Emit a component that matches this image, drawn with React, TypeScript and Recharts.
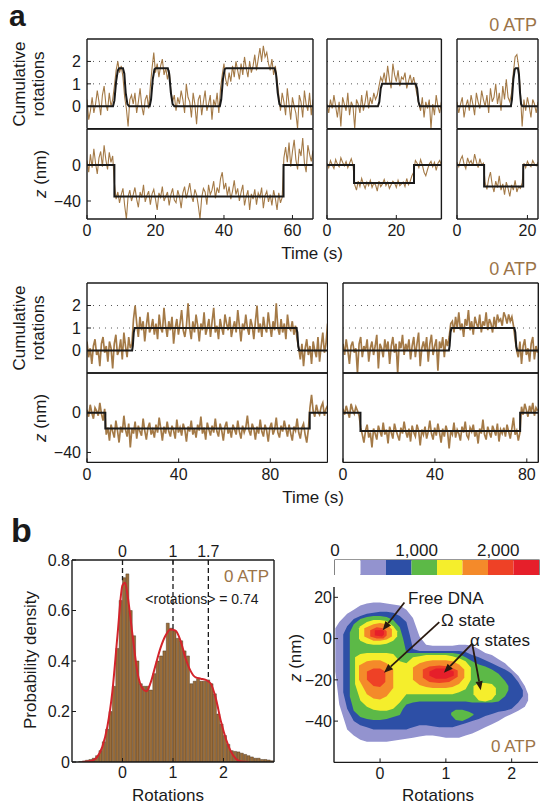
import React from 'react';
import {
  LineChart, Line, XAxis, YAxis, ReferenceLine, ReferenceArea,
  ComposedChart, Bar, Area, BarChart,
} from 'recharts';

const FONT = '"Liberation Sans", Arial, Helvetica, sans-serif';
const TRACE = '#a47a47';
const ATP = '#9b7448';
const INK = '#1a1a1a';

// ---------- panel a, sampling interval of the traces (s) ----------
const DT_TOP = 0.5;
const DT_BOTTOM = 0.7;

// trace 1 (0-66 s)
const rot1 = [0.3,-0.6,-0.2,0.4,-0.3,0.1,0.7,0.2,-0.4,0.5,0.9,0.1,-0.2,0.6,0.0,0.3,
  0.9,1.6,2.0,1.5,1.8,1.3,
  0.4,-0.1,-0.9,0.3,0.5,
  0.1,0.6,-0.3,0.2,0.8,0.0,-0.4,0.3,0.5,-0.1,
  0.9,1.7,2.4,1.5,1.9,1.3,1.8,2.1,1.4,1.7,1.2,1.6,
  0.7,0.2,0.5,-0.2,
  0.4,0.1,0.7,0.3,-0.3,1.0,0.4,0.2,-0.5,0.6,0.1,-0.8,0.3,0.5,-0.4,0.2,0.7,-0.2,0.1,0.5,-0.6,0.3,0.0,0.6,-0.3,
  0.8,1.4,1.9,1.2,0.9,
  1.5,1.1,1.8,1.3,2.0,1.6,1.2,1.9,1.4,2.2,1.7,1.3,2.0,1.5,1.8,2.3,1.6,2.1,
  2.6,2.0,2.7,2.2,2.4,1.9,
  1.6,2.1,1.4,1.8,1.2,
  0.5,-0.2,0.6,
  0.2,-0.4,0.8,0.1,-0.6,0.4,0.0,-0.3,-1.0,0.5,0.2,-0.5,0.7,0.1,-0.2,0.6,-0.4,0.3];
const rotFit1 = [[0,0],[7.6,0],[8.0,0.25],[8.5,1.1],[9.0,1.6],[9.4,1.7],[10.5,1.7],[10.9,1.45],[11.3,0.6],[11.8,0.1],[12.3,0],
  [18.3,0],[18.7,0.3],[19.2,1.2],[19.7,1.65],[20.1,1.7],[23.6,1.7],[24.0,1.45],[24.5,0.6],[25.0,0.1],[25.5,0],
  [38.8,0],[39.2,0.3],[39.7,1.2],[40.2,1.65],[40.6,1.7],[54.8,1.7],[55.2,1.45],[55.7,0.6],[56.2,0.1],[56.7,0],[66,0]];
const z1 = [5,-8,12,-3,18,2,-10,8,15,-2,22,6,-5,14,3,10,
  -20,
  -38,-30,-42,-33,-26,-45,-60,-35,-28,-40,
  -33,-25,-38,-47,-30,-36,-22,-41,-34,-29,
  -44,-32,-27,-38,-50,-31,-36,-24,-40,-35,
  -30,-45,-33,-26,-39,-42,-28,-35,-48,-31,
  -24,-37,-29,-20,-34,-41,-27,-33,-45,-60,
  -36,-26,-30,-44,-22,-33,-28,-18,-37,-25,
  -31,-15,-8,-27,-20,-34,-24,-38,-29,-17,
  -33,-26,-40,-30,-22,-45,-35,-28,-50,-32,
  -38,-27,-44,-31,-36,-25,-48,-34,-29,-41,
  -33,-45,-28,-37,-50,-31,-42,-36,
  8,20,3,25,-2,15,28,6,-5,18,10,30,2,-8,22,12,4,16];
const zFit1 = [[0,0],[8,0],[8,-35],[57.4,-35],[57.4,0],[66,0]];

// trace 2 (0-33 s)
const rot2 = [0.1,-0.3,0.3,-0.1,0.5,0.0,-0.5,0.2,-0.9,0.4,0.1,-0.2,0.6,-0.4,0.2,0.0,-1.0,0.3,0.1,-0.3,0.5,-0.2,0.2,0.7,-0.1,0.4,0.1,0.6,0.3,0.5,
  0.9,1.3,1.1,
  1.5,1.0,1.8,1.2,0.8,1.9,1.4,1.1,1.6,0.9,1.3,1.2,1.5,0.8,1.1,1.4,1.0,1.3,0.9,
  0.5,0.1,
  -0.2,0.4,-0.5,0.2,-0.1,0.3,-1.0,0.1,-0.4,0.5,0.0,-0.3,0.2];
const rotFit2 = [[0,0],[14.7,0],[15.1,0.2],[15.5,0.8],[15.9,1],[25.6,1],[26.0,0.8],[26.4,0.2],[26.8,0],[33,0]];
const z2 = [2,-3,5,0,-4,6,1,-2,8,3,-1,4,-3,2,7,0,
  -22,-28,-18,-24,-15,-21,-26,-19,-23,-17,-25,-20,-22,-29,-18,-24,-21,-16,-23,-19,-26,-22,-18,-20,-25,-17,-23,-21,-19,-24,-15,-22,-18,-12,-8,
  5,2,-3,6,0,-8,-12,-5,1,4,-2,3,-6,2,5,0];
const zFit2 = [[0,0],[7.8,0],[7.8,-20],[25.1,-20],[25.1,0],[33,0]];

// trace 3 (0-23 s)
const rot3 = [0.2,-0.3,0.1,0.4,-0.5,0.0,0.3,-0.2,0.5,0.1,-0.4,0.6,0.2,-0.1,0.7,0.3,0.0,0.5,-0.3,0.8,0.2,0.4,1.0,0.1,0.6,-0.2,0.9,0.3,1.2,0.4,
  0.2,0.6,
  1.5,2.2,2.3,1.8,
  0.6,-0.9,
  0.3,-0.2,0.4,0.0,-0.5,0.3,0.1,-0.3,0.2];
const rotFit3 = [[0,0],[15.3,0],[15.6,0.3],[16.0,1.2],[16.4,1.65],[16.7,1.7],[17.3,1.7],[17.6,1.4],[17.9,0.6],[18.2,0.1],[18.5,0],[23,0]];
const z3 = [3,-2,6,10,1,-4,8,2,5,-1,12,4,-3,7,0,2,
  -20,-27,-15,-8,-22,-30,-18,-25,-12,-28,-21,-33,-19,-26,-35,-22,-28,-17,-30,-24,-26,-20,
  2,-3,4,0,-2,5,1,-1,3];
const zFit3 = [[0,0],[7.7,0],[7.7,-24],[18.8,-24],[18.8,0],[23,0]];

// trace 4 (0-105 s)
const rot4 = [0.4,-0.3,0.1,-0.6,0.2,0.5,-0.2,0.0,-0.7,0.3,0.6,-0.1,0.2,-0.5,0.4,0.1,-0.8,0.3,0.7,-0.2,0.0,0.5,-0.4,0.8,0.2,-0.3,0.6,0.1,
  0.3,1.4,2.0,
  1.2,0.6,1.5,0.9,1.3,0.4,1.1,1.7,0.8,1.0,
  1.4,0.7,1.2,0.5,1.6,1.0,0.8,1.9,1.1,0.6,
  1.3,0.9,1.5,0.3,1.0,1.4,0.7,1.2,1.8,0.9,
  0.6,1.1,2.1,1.0,0.5,1.3,0.8,1.6,1.1,0.4,
  1.2,0.9,1.7,0.7,1.0,1.4,0.6,1.3,1.9,0.8,
  1.1,0.5,1.4,1.0,0.7,1.6,1.2,0.9,1.5,0.6,
  1.0,1.3,0.8,1.8,1.1,0.4,1.2,0.9,1.6,1.0,
  0.7,1.4,1.1,0.5,1.3,2.0,0.8,1.2,0.6,1.5,
  1.0,0.8,1.7,1.1,0.6,1.3,0.9,2.1,1.0,0.7,
  1.4,0.8,1.2,0.5,1.6,1.0,0.9,1.3,0.7,1.1,
  0.5,0.1,
  -0.4,0.3,-0.7,0.1,0.5,-0.2,0.2,-0.6,0.4,0.0,-0.3,0.6,-0.5,0.2,0.8,-0.1,0.3,1.2];
const rotFit4 = [[0,0],[19.7,0],[20.0,0.2],[20.4,0.8],[20.8,1],[91.4,1],[91.8,0.8],[92.2,0.2],[92.6,0],[105,0]];
const z4 = [3,-4,8,0,-6,5,2,-3,10,-1,-8,4,
  -22,-15,-28,-12,-19,-25,-8,-18,-30,-14,
  -20,-3,-17,-24,-11,-35,-16,-21,-9,-26,
  -13,-19,-23,-6,-18,-27,-15,-10,-22,-17,
  -25,-12,-20,-5,-16,-28,-14,-21,-9,-19,
  -24,-13,-18,-26,-7,-20,-15,-23,-11,-17,
  -29,-14,-19,-8,-22,-16,-25,-12,-18,-4,
  -21,-15,-27,-10,-17,-23,-13,-20,-6,-19,
  -24,-11,-18,-28,-14,-9,-21,-16,-25,-12,
  -17,-22,-8,-19,-26,-13,-20,-15,-3,-18,
  -23,-11,-16,-27,-14,-21,-7,-19,-24,-12,
  -18,-29,-15,-10,-22,-17,-5,-20,-25,-13,
  -19,-8,-16,-24,-12,-21,-28,-14,-18,-6,
  -20,-26,-15,-11,-22,-30,-17,
  5,18,2,-4,8,1,-2,6,10,-3,4,7];
const zFit4 = [[0,0],[8,0],[8,-16],[97.2,-16],[97.2,0],[105,0]];

// trace 5 (0-85 s)
const rot5 = [0.3,-0.2,0.5,0.0,-0.6,0.2,0.4,-0.1,0.1,-1.0,
  0.3,0.6,-0.3,0.2,0.0,0.5,-0.5,0.1,0.4,-0.2,
  0.2,0.7,-0.8,0.3,0.1,-0.3,0.5,0.0,0.4,-0.6,
  0.2,0.6,-0.1,0.3,-1.0,0.4,0.1,0.7,-0.2,0.3,
  0.0,0.5,-0.4,0.2,0.6,-0.3,0.3,0.8,-0.7,0.1,
  0.4,0.0,0.6,-0.5,0.3,0.7,-0.2,0.2,0.5,-0.9,
  0.4,0.1,0.6,-0.3,0.5,0.2,
  0.6,1.2,
  1.3,0.8,1.5,1.0,1.7,0.9,1.2,0.6,1.4,1.1,
  1.8,0.9,1.3,0.7,1.5,1.2,1.0,1.6,0.8,1.3,
  1.1,1.7,0.9,1.4,1.2,0.8,1.5,1.0,1.6,1.3,
  1.4,1.1,1.7,1.5,1.2,1.6,1.3,1.5,1.1,
  0.5,0.0,
  -0.3,0.4,-0.6,0.2,0.5,-0.2,0.1,-0.5,0.3,0.6,-0.4,0.2,-0.1];
const rotFit5 = [[0,0],[46.1,0],[46.4,0.2],[46.8,0.8],[47.2,1],[74.6,1],[75.0,0.8],[75.4,0.2],[75.8,0],[85,0]];
const z5 = [4,-2,7,1,-5,9,3,-1,6,2,-3,
  -15,-22,-30,-18,-12,-25,-20,-35,-16,-21,
  -27,-13,-19,-24,-10,-22,-17,-31,-14,-20,
  -26,-11,-18,-23,-28,-15,-21,-9,-19,-25,
  -16,-29,-13,-20,-24,-12,-18,-33,-17,-22,
  -14,-26,-19,-8,-21,-27,-15,-23,-11,-20,
  -30,-16,-24,-13,-19,-36,-18,-22,-10,-25,
  -17,-21,-28,-14,-20,-9,-23,-26,-15,-19,
  -12,-24,-18,-31,-16,-21,-7,-22,-27,-14,
  -20,-25,-13,-18,-23,-11,-29,-17,-21,-15,
  -24,-12,-19,-26,-16,-5,-22,-18,-28,-20,
  6,-2,9,3,-4,7,1,10,-3,5,2];
const zFit5 = [[0,0],[7.6,0],[7.6,-18.4],[77.1,-18.4],[77.1,0],[85,0]];

const ROT_TICKS = [0, 1, 2];
const Z_TICKS = [-40, 0];

// ---------- panel b, histogram ----------
// 60 bins of width 1/15 rotation, from -1 to 3
const HIST_MIN = -1;
const HIST_BIN = 1 / 15;
const histDensity = [0,0,0.002,0.004,0.007,0.01,0.015,0.025,0.045,0.08,0.13,0.2,0.3,0.45,0.64,
  0.73,0.745,0.6,0.5,0.4,0.31,0.3,0.3,0.285,0.35,0.4,0.42,0.44,0.55,0.53,
  0.52,0.49,0.48,0.44,0.42,0.31,0.32,0.33,0.32,0.32,0.325,0.31,0.27,0.19,0.15,
  0.105,0.07,0.045,0.042,0.04,0.035,0.03,0.025,0.02,0.015,0.015,0.01,0.01,0.008,0.005];
const fitX = [-0.8,-0.6,-0.5,-0.4,-0.3,-0.2,-0.1,0,0.05,0.1,0.2,0.3,0.4,0.47,0.55,0.65,0.75,0.85,0.95,1.05,1.15,1.25,1.35,1.45,1.55,1.65,1.75,1.85,1.95,2.05,2.15,2.25,2.35,2.5];
const fitY = [0,0.005,0.02,0.06,0.14,0.28,0.5,0.70,0.71,0.66,0.5,0.35,0.29,0.28,0.31,0.38,0.45,0.5,0.525,0.52,0.48,0.41,0.36,0.335,0.33,0.325,0.31,0.25,0.16,0.09,0.04,0.012,0.002,0];
const peakMarks = [[0, 0.72], [1, 0.52], [1.7, 0.325]];
const HIST_TOP_TICKS = [0, 1, 1.7];

// ---------- panel b, 2D density contours ([rotations, z low, z high]) ----------
const levelBounds = [0, 312.5, 625, 937.5, 1250, 1562.5, 1875, 2187.5, 2500];
const levelColors = ['#ffffff', '#9393cf', '#2d4fa6', '#5cb947', '#f5ee2c', '#f48a2a', '#ee4126', '#e61f2a'];

const lvl1 = [[-0.68,-16,5],[-0.62,-32,8],[-0.5,-44,12],[-0.4,-47,14],[-0.3,-49,16],[-0.2,-50,17],[-0.1,-50,17.5],[0,-50,17.5],[0.1,-50,17],[0.2,-49.5,16.5],[0.3,-49,16],[0.4,-48.5,14],[0.5,-48,10],[0.6,-47.5,1],[0.7,-47,-3],[0.8,-47,-3.5],[0.9,-47.5,-3.5],[1.0,-48,-3.5],[1.1,-48,-3.5],[1.2,-48,-3],[1.3,-47,-3],[1.4,-46,-3.5],[1.5,-44.5,-5],[1.6,-43,-7],[1.7,-41.5,-8],[1.8,-40,-10],[1.9,-38,-12],[2.0,-36.5,-15],[2.1,-35,-18],[2.2,-33,-23],[2.25,-30,-27]];
const lvl2 = [[-0.56,-26,2],[-0.5,-34,6],[-0.4,-40,9.5],[-0.3,-42,11],[-0.2,-43,12],[-0.1,-44,12.5],[0,-44,13],[0.1,-44,13],[0.2,-44,12.5],[0.3,-44,11],[0.4,-44,8],[0.45,-43.5,2],[0.5,-43,-5],[0.6,-42,-6],[0.7,-42,-6],[0.8,-42.5,-6],[0.9,-43,-6],[1.0,-43,-6],[1.1,-43,-6],[1.2,-42,-6],[1.3,-41,-6.5],[1.4,-40,-8],[1.5,-39,-9],[1.6,-37.5,-10.5],[1.7,-36.5,-12],[1.8,-35.5,-13.5],[1.9,-35,-15],[2.0,-34,-17],[2.1,-31,-21],[2.17,-28,-25]];
const lvl3 = [[-0.46,-28,3],[-0.4,-35,7],[-0.3,-38,9.5],[-0.2,-39,10.5],[-0.1,-39.5,11],[0,-39.5,11],[0.1,-39,10.5],[0.2,-38,9],[0.3,-37,5.5],[0.35,-34,0],[0.4,-32,-7],[0.5,-31,-7],[0.6,-30.5,-7],[0.7,-30.5,-7],[0.8,-30.5,-7],[0.9,-30.5,-7],[1.0,-30.5,-7],[1.1,-30.5,-7],[1.2,-30.5,-7.5],[1.3,-30.5,-9],[1.4,-31,-11],[1.5,-31,-12.5],[1.6,-31,-13.5],[1.7,-31,-15],[1.8,-30.5,-17],[1.9,-28,-20.5],[1.95,-25,-23]];
const lvl3b = [[1.08,-37,-36],[1.15,-39.5,-34.5],[1.25,-40,-34.5],[1.35,-38.5,-35.5],[1.42,-37,-36.5]];
const lvl4a = [[-0.32,0,5],[-0.3,-1,6],[-0.2,-2.5,8],[-0.1,-3,9],[0,-3,9],[0.1,-2.5,8.5],[0.2,-1,6],[0.26,1,3.5]];
const lvl4b = [[-0.38,-22,-9],[-0.3,-30,-7.5],[-0.2,-33,-7],[-0.1,-34.5,-7],[0,-35,-7],[0.1,-35,-7],[0.2,-34,-7.5],[0.3,-31,-11],[0.4,-27,-12],[0.5,-27,-9],[0.6,-27,-8.5],[0.7,-27,-8],[0.8,-27,-8],[0.9,-27,-8],[1.0,-27,-8],[1.1,-27,-8.5],[1.2,-26,-9.5],[1.3,-24.5,-11],[1.38,-20,-14]];
const lvl4c = [[1.42,-27,-23],[1.5,-30,-21.5],[1.6,-30.5,-21.5],[1.7,-29.5,-22],[1.76,-27,-24]];
const lvl5a = [[-0.24,1,5],[-0.1,-1,7],[0,-1,7.5],[0.1,-0.5,7],[0.18,1,4.5]];
const lvl5b = [[-0.32,-20,-13],[-0.2,-27,-11],[-0.1,-29,-10.5],[0,-29.5,-10.5],[0.1,-28,-12],[0.2,-24,-15]];
const lvl5c = [[0.5,-20,-14],[0.6,-22.5,-12],[0.7,-23.5,-11],[0.8,-24,-10.5],[0.9,-24,-10.5],[1.0,-24,-10.5],[1.1,-23.5,-11],[1.2,-22,-12.5],[1.28,-19,-15]];
const lvl6a = [[-0.15,1,4],[-0.05,0,5.5],[0.05,0,5],[0.1,1.5,3.5]];
const lvl6b = [[-0.2,-20,-16],[-0.1,-23,-14.5],[0,-23.5,-14.5],[0.08,-21,-16]];
const lvl6c = [[0.65,-19,-15],[0.75,-21,-13.5],[0.9,-21.5,-13],[1.05,-21,-13.5],[1.18,-18.5,-15.5]];
const lvl7a = [[-0.08,1.5,4],[0.03,1,4.2],[0.06,2,3.5]];
const lvl7c = [[0.75,-18,-16],[0.85,-19.5,-14.5],[1.0,-19.5,-14.5],[1.12,-18,-16]];

const contourLayers: [number[][], number][] = [
  [lvl1, 1], [lvl2, 2], [lvl3, 3], [lvl3b, 3], [lvl4a, 4], [lvl4b, 4], [lvl4c, 4],
  [lvl5a, 5], [lvl5b, 5], [lvl5c, 5], [lvl6a, 6], [lvl6b, 6], [lvl6c, 6], [lvl7a, 7], [lvl7c, 7],
];

// annotation arrows: [from, to] in (rotations, nm)
const arrows = [
  [[0.37, 17.5], [0.04, 4]],
  [[0.9, 8], [0.06, -16.5]],
  [[1.4, -2.5], [0.97, -16.5]],
  [[1.4, -2.5], [1.53, -25]],
];

const fmt = (v: number) => (v < 0 ? '\u2212' + Math.abs(v) : String(v));
const fmtThousands = (v: number) => v.toLocaleString('en-US');

const tickStyle = { fontSize: 16, fill: INK, fontFamily: FONT };

interface TraceProps {
  values: number[]; dt: number; fit: number[][];
  left: number; top: number; width: number; height: number;
  xMax: number; xTicks: number[]; yDomain: [number, number]; yTicks: number[];
  xLabels: boolean; yLabels: boolean; grid?: number[]; lineWidth: number;
}

function Trace(p: TraceProps) {
  const YW = 50, XH = 30;
  const series = p.values.map((v, i) => ({ t: Math.round(i * p.dt * 100) / 100, v }));
  const fit = p.fit.map(([t, f]) => ({ t, f }));
  return (
    <div style={{ position: 'absolute', left: p.left - YW, top: p.top - 1 }}>
      <LineChart width={YW + p.width + 1} height={1 + p.height + XH} margin={{ top: 0, right: 0, bottom: 0, left: 0 }}>
        <XAxis xAxisId="b" type="number" dataKey="t" domain={[0, p.xMax]} ticks={p.xTicks} allowDataOverflow height={XH} interval={0}
          tickSize={-4} tickMargin={10} tick={p.xLabels ? tickStyle : false} stroke={INK} axisLine={{ stroke: INK, strokeWidth: 1.4 }} />
        <XAxis xAxisId="t" orientation="top" type="number" dataKey="t" domain={[0, p.xMax]} ticks={p.xTicks} allowDataOverflow height={1} interval={0}
          tickSize={-4} tick={false} stroke={INK} axisLine={{ stroke: INK, strokeWidth: 1.4 }} />
        <YAxis yAxisId="l" type="number" domain={p.yDomain} ticks={p.yTicks} allowDataOverflow width={YW} interval={0}
          tickSize={-4} tickMargin={10} tick={p.yLabels ? tickStyle : false} tickFormatter={fmt} stroke={INK} axisLine={{ stroke: INK, strokeWidth: 1.4 }} />
        <YAxis yAxisId="r" orientation="right" type="number" domain={p.yDomain} ticks={p.yTicks} allowDataOverflow width={1} interval={0}
          tickSize={-4} tick={false} stroke={INK} axisLine={{ stroke: INK, strokeWidth: 1.4 }} />
        {(p.grid || []).map((g) => (
          <ReferenceLine key={g} xAxisId="b" yAxisId="l" y={g} stroke="#555" strokeDasharray="1 5" strokeWidth={1} />
        ))}
        <Line xAxisId="b" yAxisId="l" data={series} dataKey="v" type="linear" dot={false} activeDot={false}
          stroke={TRACE} strokeWidth={p.lineWidth} isAnimationActive={false} />
        <Line xAxisId="b" yAxisId="l" data={fit} dataKey="f" type="linear" dot={false} activeDot={false}
          stroke={INK} strokeWidth={2} isAnimationActive={false} />
      </LineChart>
    </div>
  );
}

const Arrow = (props: any) => {
  const { x1, y1, x2, y2 } = props;
  const a = Math.atan2(y2 - y1, x2 - x1);
  const L = 9, W = 3.6;
  const bx = x2 - L * Math.cos(a), by = y2 - L * Math.sin(a);
  const px = W * Math.sin(a), py = W * Math.cos(a);
  return (
    <g>
      <line x1={x1} y1={y1} x2={bx} y2={by} stroke="#2a1a10" strokeWidth={1.8} />
      <polygon points={`${x2},${y2} ${bx + px},${by - py} ${bx - px},${by + py}`} fill="#2a1a10" />
    </g>
  );
};

function Histogram() {
  const data = histDensity.map((p, i) => ({ bin: i, p }));
  const fitData = fitX.map((x, i) => ({ x, y: fitY[i] }));
  const YW = 50, TH = 30, XH = 30, W = 202, H = 202;
  const hMax = HIST_MIN + HIST_BIN * histDensity.length;
  return (
    <div style={{ position: 'absolute', left: 72.3 - YW, top: 560 - TH }}>
      <ComposedChart width={YW + W + 1} height={TH + H + XH} data={data} margin={{ top: 0, right: 0, bottom: 0, left: 0 }} barCategoryGap={0} barGap={0}>
        <XAxis xAxisId="num" type="number" dataKey="x" domain={[HIST_MIN, hMax]} ticks={[0, 1, 2]} allowDataOverflow
          height={XH} interval={0} tickSize={-4} tickMargin={9} tick={tickStyle} stroke={INK} axisLine={{ stroke: INK, strokeWidth: 1.4 }} />
        <XAxis xAxisId="top" orientation="top" type="number" dataKey="x" domain={[HIST_MIN, hMax]} ticks={HIST_TOP_TICKS} allowDataOverflow
          height={TH} interval={0} tickSize={-4} tickMargin={7} tick={tickStyle} stroke={INK} axisLine={{ stroke: INK, strokeWidth: 1.4 }} />
        <YAxis yAxisId="l" type="number" domain={[0, 0.8]} ticks={[0, 0.2, 0.4, 0.6, 0.8]} allowDataOverflow width={YW} interval={0}
          tickSize={-4} tickMargin={6} tick={tickStyle} stroke={INK} axisLine={{ stroke: INK, strokeWidth: 1.4 }} />
        <YAxis yAxisId="r" orientation="right" type="number" domain={[0, 0.8]} allowDataOverflow width={1} tick={false} tickLine={false}
          stroke={INK} axisLine={{ stroke: INK, strokeWidth: 1.4 }} />
        <XAxis xAxisId="cat" dataKey="bin" type="category" hide height={0} />
        <Bar xAxisId="cat" yAxisId="l" dataKey="p" fill="#9a6d3a" stroke="#3a2612" strokeWidth={0.4} isAnimationActive={false} />
        {peakMarks.map(([x, y]) => (
          <ReferenceLine key={x} xAxisId="num" yAxisId="l" segment={[{ x, y: 0.8 }, { x, y }]} stroke={INK} strokeWidth={1.3} strokeDasharray="5 3" />
        ))}
        <Line xAxisId="num" yAxisId="l" data={fitData} dataKey="y" type="monotone" dot={false} activeDot={false}
          stroke="#d3242b" strokeWidth={2} isAnimationActive={false} />
      </ComposedChart>
    </div>
  );
}

function Density() {
  const YW = 60, XH = 40, W = 204, H = 175.4;
  return (
    <div style={{ position: 'absolute', left: 334.3 - YW, top: 587.3 }}>
      <ComposedChart width={YW + W} height={H + XH} margin={{ top: 0, right: 0, bottom: 0, left: 0 }}>
        <XAxis type="number" dataKey="x" domain={[-0.7, 2.4]} ticks={[0, 1, 2]} allowDataOverflow height={XH} interval={0}
          tickSize={-4} tickMargin={9} tick={tickStyle} stroke={INK} axisLine={{ stroke: INK, strokeWidth: 1.4 }} />
        <YAxis type="number" domain={[-60, 25]} ticks={[-40, -20, 0, 20]} allowDataOverflow width={YW} interval={0}
          tickSize={-4} tickMargin={6} tick={tickStyle} tickFormatter={fmt} stroke={INK} axisLine={{ stroke: INK, strokeWidth: 1.4 }} />
        {contourLayers.map(([pts, lv], i) => (
          <Area key={i} data={pts.map(([x, lo, hi]) => ({ x, r: [lo, hi] }))} dataKey="r" type="linear"
            fill={levelColors[lv]} fillOpacity={1} stroke="none" dot={false} activeDot={false} isAnimationActive={false} />
        ))}
        {arrows.map(([a, b], i) => (
          <ReferenceLine key={'a' + i} segment={[{ x: a[0], y: a[1] }, { x: b[0], y: b[1] }]} shape={Arrow} />
        ))}
      </ComposedChart>
    </div>
  );
}

function ColorBar() {
  const row: Record<string, number | string> = { name: 'c' };
  levelColors.forEach((_, i) => { row['s' + i] = levelBounds[i + 1] - levelBounds[i]; });
  return (
    <div style={{ position: 'absolute', left: 325, top: 535 }}>
      <BarChart width={224} height={40} data={[row]} layout="vertical" margin={{ top: 0, right: 10, bottom: 0, left: 10 }} barCategoryGap={0}>
        <XAxis type="number" orientation="top" domain={[levelBounds[0], levelBounds[levelBounds.length - 1]]} ticks={[0, 1000, 2000]}
          height={25} interval={0} tickSize={0} tickMargin={4} tick={{ ...tickStyle, fontSize: 17 }} tickFormatter={fmtThousands}
          axisLine={false} tickLine={false} />
        <YAxis type="category" dataKey="name" hide />
        {levelColors.map((c, i) => (
          <Bar key={i} dataKey={'s' + i} stackId="a" fill={c} isAnimationActive={false} />
        ))}
        <ReferenceArea x1={levelBounds[0]} x2={levelBounds[levelBounds.length - 1]} fill="none" fillOpacity={0} stroke="#333" strokeWidth={1.2} strokeOpacity={1} ifOverflow="visible" />
      </BarChart>
    </div>
  );
}

function Texts() {
  const lab = { fontSize: 17, fill: INK, fontFamily: FONT } as const;
  return (
    <svg width={549} height={811} style={{ position: 'absolute', left: 0, top: 0, pointerEvents: 'none' }}>
      <text x={9} y={26} fontSize={30} fontWeight="bold" fontFamily={FONT} fill={INK}>a</text>
      <text x={11} y={542} fontSize={34} fontWeight="bold" fontFamily={FONT} fill={INK}>b</text>

      <text x={537} y={31} textAnchor="end" fontSize={18} fill={ATP} fontFamily={FONT}>0 ATP</text>
      <text x={537} y={275} textAnchor="end" fontSize={18} fill={ATP} fontFamily={FONT}>0 ATP</text>

      <text transform="translate(25,84) rotate(-90)" textAnchor="middle" {...lab}>Cumulative</text>
      <text transform="translate(44,84) rotate(-90)" textAnchor="middle" {...lab}>rotations</text>
      <text transform="translate(46,174) rotate(-90)" textAnchor="middle" {...lab}><tspan fontStyle="italic">z</tspan> (nm)</text>
      <text x={312} y={259} textAnchor="middle" {...lab}>Time (s)</text>

      <text transform="translate(25,328) rotate(-90)" textAnchor="middle" {...lab}>Cumulative</text>
      <text transform="translate(44,328) rotate(-90)" textAnchor="middle" {...lab}>rotations</text>
      <text transform="translate(46,418) rotate(-90)" textAnchor="middle" {...lab}><tspan fontStyle="italic">z</tspan> (nm)</text>
      <text x={313} y={503} textAnchor="middle" {...lab}>Time (s)</text>

      <text transform="translate(36,660) rotate(-90)" textAnchor="middle" {...lab}>Probability density</text>
      <text x={168} y={801} textAnchor="middle" {...lab}>Rotations</text>
      <text x={269} y={582} textAnchor="end" fontSize={17} fill={ATP} fontFamily={FONT}>0 ATP</text>
      <text x={202} y={604} textAnchor="middle" fontSize={14} fill={INK} fontFamily={FONT}>&lt;rotations&gt; = 0.74</text>

      <text transform="translate(301,658) rotate(-90)" textAnchor="middle" {...lab}><tspan fontStyle="italic">z</tspan> (nm)</text>
      <text x={438} y={801} textAnchor="middle" {...lab}>Rotations</text>
      <text x={536} y={752} textAnchor="end" fontSize={17} fill={ATP} fontFamily={FONT}>0 ATP</text>
      <text x={408} y={604} fontSize={17} fill={INK} fontFamily={FONT}>Free DNA</text>
      <text x={441} y={626} fontSize={17} fill={INK} fontFamily={FONT}>{'\u03A9 state'}</text>
      <text x={470} y={646} fontSize={17} fill={INK} fontFamily={FONT}>{'\u03B1 states'}</text>
    </svg>
  );
}

export default function App() {
  const topRot = { yDomain: [-1, 3] as [number, number], yTicks: ROT_TICKS, grid: ROT_TICKS, xLabels: false };
  const topZ = { yDomain: [-60, 40] as [number, number], yTicks: Z_TICKS, xLabels: true };
  const botZ = { yDomain: [-50, 40] as [number, number], yTicks: Z_TICKS, xLabels: true };
  return (
    <div style={{ position: 'absolute', left: 0, top: 0, width: 549, height: 811, background: '#fff', fontFamily: FONT, overflow: 'hidden' }}>
      {/* panel a, top row */}
      <Trace values={rot1} dt={DT_TOP} fit={rotFit1} left={86.7} top={39.3} width={226} height={89.7} xMax={66} xTicks={[0, 20, 40, 60]} yLabels lineWidth={1.1} {...topRot} />
      <Trace values={z1} dt={DT_TOP} fit={zFit1} left={86.7} top={129} width={226} height={90} xMax={66} xTicks={[0, 20, 40, 60]} yLabels lineWidth={1.1} {...topZ} />
      <Trace values={rot2} dt={DT_TOP} fit={rotFit2} left={327.3} top={39.3} width={114.4} height={89.7} xMax={33} xTicks={[0, 20]} yLabels={false} lineWidth={1.1} {...topRot} />
      <Trace values={z2} dt={DT_TOP} fit={zFit2} left={327.3} top={129} width={114.4} height={90} xMax={33} xTicks={[0, 20]} yLabels={false} lineWidth={1.1} {...topZ} />
      <Trace values={rot3} dt={DT_TOP} fit={rotFit3} left={456.7} top={39.3} width={81} height={89.7} xMax={23} xTicks={[0, 20]} yLabels={false} lineWidth={1.1} {...topRot} />
      <Trace values={z3} dt={DT_TOP} fit={zFit3} left={456.7} top={129} width={81} height={90} xMax={23} xTicks={[0, 20]} yLabels={false} lineWidth={1.1} {...topZ} />
      {/* panel a, bottom row */}
      <Trace values={rot4} dt={DT_BOTTOM} fit={rotFit4} left={86.7} top={283.3} width={240.6} height={90} xMax={105} xTicks={[0, 40, 80]} yLabels lineWidth={1.7} {...topRot} />
      <Trace values={z4} dt={DT_BOTTOM} fit={zFit4} left={86.7} top={373.3} width={240.6} height={89.4} xMax={105} xTicks={[0, 40, 80]} yLabels lineWidth={1.7} {...botZ} />
      <Trace values={rot5} dt={DT_BOTTOM} fit={rotFit5} left={342.7} top={283.3} width={195.3} height={90} xMax={85} xTicks={[0, 40, 80]} yLabels={false} lineWidth={1.7} {...topRot} />
      <Trace values={z5} dt={DT_BOTTOM} fit={zFit5} left={342.7} top={373.3} width={195.3} height={89.4} xMax={85} xTicks={[0, 40, 80]} yLabels={false} lineWidth={1.7} {...botZ} />
      {/* panel b */}
      <Histogram />
      <ColorBar />
      <Density />
      <Texts />
    </div>
  );
}
